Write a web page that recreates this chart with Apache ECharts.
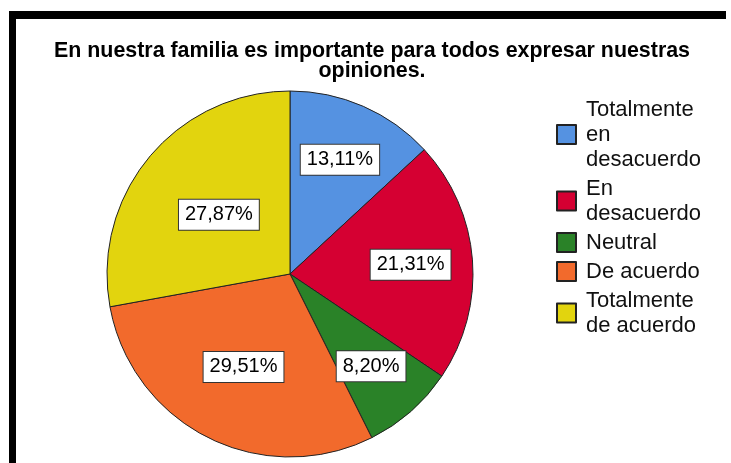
<!DOCTYPE html>
<html>
<head>
<meta charset="utf-8">
<script src="https://cdn.jsdelivr.net/npm/echarts@6/dist/echarts.min.js"></script>
<style>
  body { margin: 0; background: #fff; }
  #chart { position: absolute; left: 0; top: 0; width: 731px; height: 463px; }
  #frame { position: absolute; left: 9px; top: 11px; width: 710px; height: 460px;
           border-top: 8px solid #000; border-left: 7px solid #000; pointer-events: none; }
</style>
</head>
<body>
<div id="chart"></div>
<div id="frame"></div>
<script>
// respuestas (frecuencias, n = 61)
var categories = ["Totalmente\nen\ndesacuerdo", "En\ndesacuerdo", "Neutral", "De acuerdo", "Totalmente\nde acuerdo"];
var counts = [8, 13, 5, 18, 17];
var colors = ["#5592e1", "#d50032", "#2a8228", "#f26a2c", "#e2d40e"];
// distancia de cada etiqueta al centro, como fracción del radio
var labelDist = [0.66, 0.64, 0.65, 0.55, 0.49];

var cx = 290, cy = 274, R = 183;

var myChart = echarts.init(document.getElementById("chart"));
var option = {
  animation: false,
  title: {
    text: "En nuestra familia es importante para todos expresar nuestras\nopiniones.",
    left: 367,
    top: 36,
    textAlign: "center",
    textStyle: {
      fontFamily: "Liberation Sans, Arial, sans-serif",
      fontWeight: "bold",
      fontSize: 21.4,
      lineHeight: 20,
      color: "#000"
    }
  },
  legend: {
    orient: "vertical",
    left: 556,
    top: 97,
    padding: 0,
    icon: "rect",
    itemWidth: 19,
    itemHeight: 19,
    itemGap: 4,
    selectedMode: false,
    textStyle: {
      fontFamily: "Liberation Sans, Arial, sans-serif",
      fontSize: 22,
      lineHeight: 25,
      color: "#111",
      padding: [0, 0, 0, 5]
    },
    data: categories
  },
  series: [
    {
      type: "pie",
      center: [cx, cy],
      radius: [0, R],
      startAngle: 90,
      clockwise: true,
      emphasis: { disabled: true },
      itemStyle: { borderColor: "#222", borderWidth: 1 },
      label: {
        position: "inside",
        fontFamily: "Liberation Sans, Arial, sans-serif",
        fontSize: 20,
        lineHeight: 22,
        color: "#000",
        backgroundColor: "#fff",
        borderColor: "#333",
        borderWidth: 1,
        padding: [4, 6],
        formatter: function (p) {
          return p.percent.toFixed(2).replace(".", ",") + "%";
        }
      },
      // "inside" deja la etiqueta a la mitad del radio; se corre hacia afuera
      labelLayout: function (p) {
        var r = p.labelRect;
        var lx = r.x + r.width / 2, ly = r.y + r.height / 2;
        var k = labelDist[p.dataIndex] / 0.5 - 1;
        return { dx: (lx - cx) * k, dy: (ly - cy) * k };
      },
      data: categories.map(function (name, i) {
        return { name: name, value: counts[i], itemStyle: { color: colors[i] } };
      })
    }
  ]
};
myChart.setOption(option);
</script>
</body>
</html>
